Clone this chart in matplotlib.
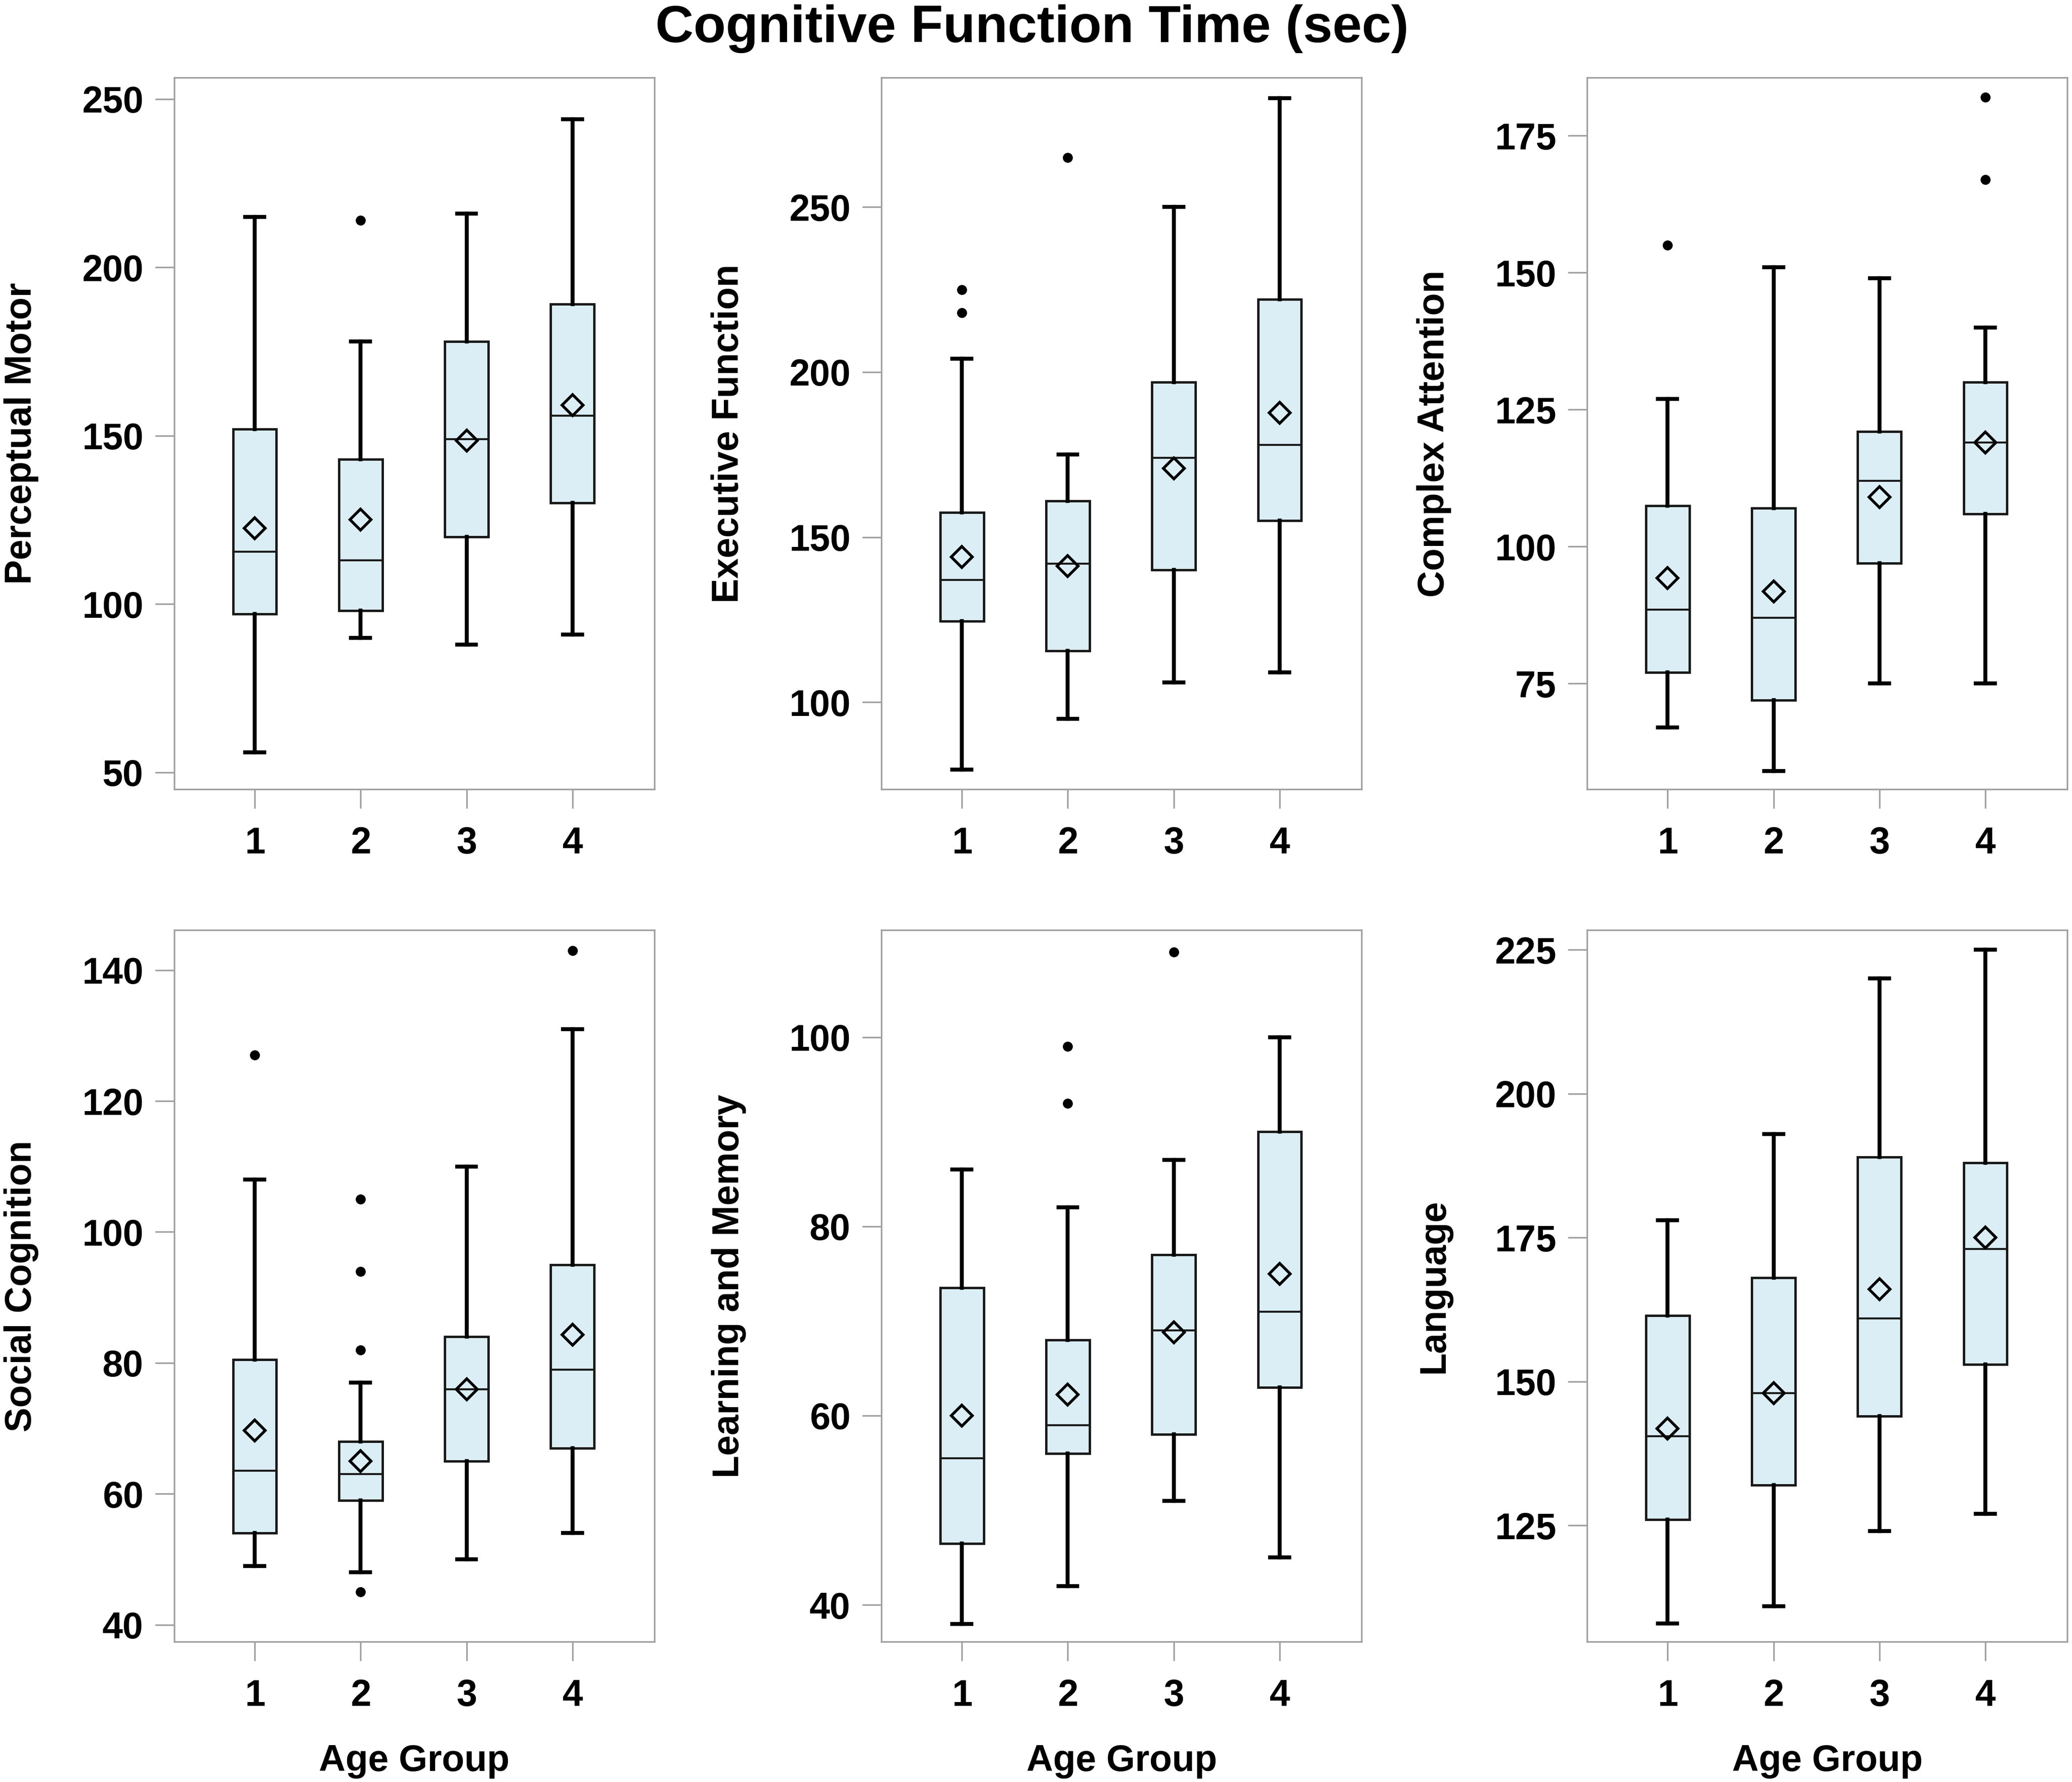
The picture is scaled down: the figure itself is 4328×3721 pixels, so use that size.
import matplotlib
matplotlib.use('Agg')
import matplotlib.pyplot as plt

plt.rcParams['font.family'] = ['Liberation Sans', 'DejaVu Sans']
plt.rcParams['font.weight'] = 'bold'

groups = [1, 2, 3, 4]
panel_names = ['Perceptual Motor', 'Executive Function', 'Complex Attention',
               'Social Cognition', 'Learning and Memory', 'Language']

# box plot statistics, one row per panel, one value per age group
whisker_low = [[56, 90, 88, 91],
               [79.5, 95, 106, 109],
               [67, 59, 75, 75],
               [49, 48, 50, 54],
               [38, 42, 51, 45],
               [108, 111, 124, 127]]
q1 = [[97, 98, 120, 130],
      [124.5, 115.5, 140, 155],
      [77, 72, 97, 106],
      [54, 59, 65, 67],
      [46.5, 56, 58, 63],
      [126, 132, 144, 153]]
median = [[115.5, 113, 149, 156],
          [137, 142, 174, 178],
          [88.5, 87, 112, 119],
          [63.5, 63, 76, 79],
          [55.5, 59, 69, 71],
          [140.5, 148, 161, 173]]
q3 = [[152, 143, 178, 189],
      [157.5, 161, 197, 222],
      [107.5, 107, 121, 130],
      [80.5, 68, 84, 95],
      [73.5, 68, 77, 90],
      [161.5, 168, 189, 188]]
whisker_high = [[215, 178, 216, 244],
                [204, 175, 250, 283],
                [127, 151, 149, 140],
                [108, 77, 110, 131],
                [86, 82, 87, 100],
                [178, 193, 220, 225]]
means = [[122.5, 125, 148.5, 159],
         [144, 141.2, 170.8, 187.6],
         [94.3, 91.8, 109, 119],
         [69.7, 65, 76, 84.3],
         [60, 62.2, 68.8, 75],
         [141.8, 148, 166, 175]]
outliers = [[[], [214], [], []],
            [[218, 225], [265], [], []],
            [[155], [], [], [167, 182]],
            [[127], [45, 82, 94, 105], [], [143]],
            [[], [93, 99], [109], []],
            [[], [], [], []]]

y_ticks = [[50, 100, 150, 200, 250],
           [100, 150, 200, 250],
           [75, 100, 125, 150, 175],
           [40, 60, 80, 100, 120, 140],
           [40, 60, 80, 100],
           [125, 150, 175, 200, 225]]
y_limits = [(45, 256.3), (73.6, 289.2), (55.7, 185.6),
            (37.4, 146.1), (36.1, 111.3), (104.8, 228.4)]

fig = plt.figure(figsize=(4328 / 300, 3721 / 300), dpi=300)

lefts = [0.0841, 0.4254, 0.766]
bottoms = [0.5571, 0.0787]
w = 0.2318
h = 0.3993

fill = '#DCEEF5'
frame_grey = '#A0A0A0'

for i in range(6):
    row = i // 3
    col = i % 3
    ax = fig.add_axes([lefts[col], bottoms[row], w, h])

    stats = []
    for j in range(4):
        stats.append({'whislo': whisker_low[i][j], 'q1': q1[i][j], 'med': median[i][j],
                      'q3': q3[i][j], 'whishi': whisker_high[i][j], 'mean': means[i][j],
                      'fliers': outliers[i][j]})

    ax.bxp(stats, positions=groups, widths=0.41, capwidths=0.18,
           patch_artist=True, showmeans=True, showfliers=True,
           boxprops=dict(facecolor=fill, edgecolor='#1a1a1a', linewidth=1.2),
           medianprops=dict(color='#1a1a1a', linewidth=1.0),
           whiskerprops=dict(color='black', linewidth=2.0),
           capprops=dict(color='black', linewidth=2.0),
           meanprops=dict(marker='D', markersize=7.5, markerfacecolor='none',
                          markeredgecolor='black', markeredgewidth=1.4),
           flierprops=dict(marker='o', markersize=4, markerfacecolor='black',
                           markeredgecolor='black'))

    ax.set_xlim(0.24, 4.775)
    ax.set_ylim(y_limits[i])
    ax.set_yticks(y_ticks[i])
    ax.set_xticks(groups)
    ax.set_xticklabels([str(g) for g in groups])

    for s in ax.spines.values():
        s.set_color(frame_grey)
        s.set_linewidth(0.8)
    ax.tick_params(axis='both', colors=frame_grey, width=0.8, length=9.5,
                   labelcolor='black', labelsize=18.5)
    ax.tick_params(axis='y', pad=6)
    ax.tick_params(axis='x', pad=9)
    for lab in ax.get_xticklabels() + ax.get_yticklabels():
        lab.set_fontweight('bold')

    ax.set_ylabel(panel_names[i], fontsize=18.5, fontweight='bold', labelpad=21.5)
    if row == 1:
        ax.set_xlabel('Age Group', fontsize=18.5, fontweight='bold', labelpad=15)

fig.suptitle('Cognitive Function Time (sec)', fontsize=26.5, fontweight='bold',
             x=0.498, y=0.984, va='center')

fig.savefig('out.png', dpi=300)
